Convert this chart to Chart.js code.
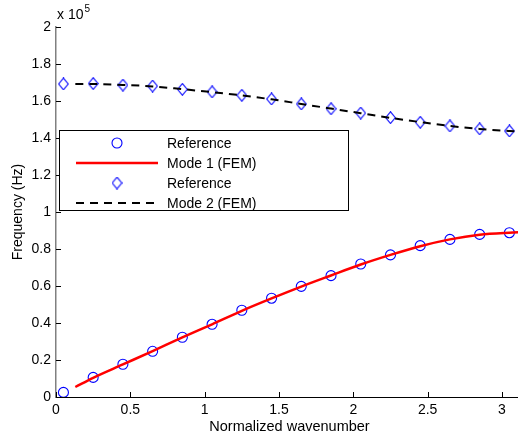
<!DOCTYPE html>
<html>
<head>
<meta charset="utf-8">
<script src="https://cdn.jsdelivr.net/npm/chart.js@4.4.1/dist/chart.umd.min.js"></script>
<style>
  html, body { margin: 0; padding: 0; background: #fff; overflow: hidden; }
  canvas { display: block; }
</style>
</head>
<body>
<canvas id="freqChart" width="530" height="437"></canvas>
<script>
// Datos (frecuencia en unidades de 1e5 Hz)
const refWavenumber = [0.05, 0.25, 0.45, 0.65, 0.85, 1.05, 1.25, 1.45, 1.65, 1.85, 2.05, 2.25, 2.45, 2.65, 2.85, 3.05];
const refMode1 = [0.025, 0.106, 0.177, 0.247, 0.323, 0.393, 0.469, 0.534, 0.598, 0.656, 0.719, 0.768, 0.818, 0.852, 0.879, 0.888];
const refMode2 = [1.692, 1.694, 1.686, 1.681, 1.663, 1.649, 1.631, 1.611, 1.584, 1.558, 1.535, 1.510, 1.485, 1.465, 1.449, 1.438];

const femWavenumber = [0.13, 0.25, 0.45, 0.65, 0.85, 1.05, 1.25, 1.45, 1.65, 1.85, 2.05, 2.25, 2.45, 2.65, 2.85, 3.05, 3.14];
const femMode1 = [0.054, 0.104, 0.176, 0.248, 0.322, 0.393, 0.466, 0.533, 0.597, 0.657, 0.716, 0.768, 0.815, 0.852, 0.877, 0.888, 0.891];
const femMode2 = [1.692, 1.692, 1.687, 1.679, 1.664, 1.648, 1.630, 1.609, 1.584, 1.559, 1.534, 1.509, 1.486, 1.465, 1.449, 1.438, 1.434];

const seriesLabels = ['Reference', 'Mode 1 (FEM)', 'Reference', 'Mode 2 (FEM)'];
const xTitle = 'Normalized wavenumber';
const yTitle = 'Frequency (Hz)';

const FONT = 'Liberation Sans, Arial, Helvetica, sans-serif';
const BLUE = '#0000ff';

function toPoints(xs, ys) {
    return xs.map((x, i) => ({ x: x, y: ys[i] }));
}

// Formato tipo MATLAB: sin ceros sobrantes
function fmtTick(v) {
    return String(Number(v.toFixed(2)));
}

// Marcador rombo (mas alto que ancho, como en MATLAB)
function makeDiamond() {
    const c = document.createElement('canvas');
    c.width = 11;
    c.height = 13;
    const g = c.getContext('2d');
    g.strokeStyle = BLUE;
    g.lineWidth = 1.1;
    g.beginPath();
    g.moveTo(5.5, 0.7);
    g.lineTo(10.3, 6.5);
    g.lineTo(5.5, 12.3);
    g.lineTo(0.7, 6.5);
    g.closePath();
    g.stroke();
    return c;
}
const diamondMarker = makeDiamond();

// Marcas de eje hacia dentro + multiplicador "x 10^5"
const matlabAxes = {
    id: 'matlabAxes',
    afterDatasetsDraw(chart) {
        const ctx = chart.ctx;
        const area = chart.chartArea;
        const xs = chart.scales.x;
        const ys = chart.scales.y;
        ctx.save();
        ctx.lineWidth = 1;
        ctx.strokeStyle = '#000';
        xs.ticks.forEach(t => {
            const px = Math.round(xs.getPixelForValue(t.value)) + 0.5;
            ctx.beginPath();
            ctx.moveTo(px, area.bottom);
            ctx.lineTo(px, area.bottom - 5);
            ctx.stroke();
        });
        ys.ticks.forEach(t => {
            const py = Math.round(ys.getPixelForValue(t.value)) + 0.5;
            ctx.beginPath();
            ctx.moveTo(area.left, py);
            ctx.lineTo(area.left + 5, py);
            ctx.stroke();
        });
        ctx.fillStyle = '#000';
        ctx.textBaseline = 'alphabetic';
        ctx.textAlign = 'left';
        ctx.font = '14px ' + FONT;
        ctx.fillText('x 10', area.left + 1, area.top - 8);
        const w = ctx.measureText('x 10').width;
        ctx.font = '10px ' + FONT;
        ctx.fillText('5', area.left + 2 + w, area.top - 15);
        ctx.restore();
    }
};

// Leyenda en caja, estilo MATLAB
const boxLegend = {
    id: 'boxLegend',
    afterDraw(chart) {
        const ctx = chart.ctx;
        const box = { left: 59.5, top: 130.5, right: 348.5, bottom: 210.5 };
        ctx.save();
        ctx.fillStyle = '#fff';
        ctx.fillRect(box.left, box.top, box.right - box.left, box.bottom - box.top);
        ctx.strokeStyle = '#000';
        ctx.lineWidth = 1;
        ctx.strokeRect(box.left, box.top, box.right - box.left, box.bottom - box.top);
        chart.data.datasets.forEach((ds, i) => {
            const y = 143 + i * 20;
            if (ds.showLine) {
                ctx.beginPath();
                ctx.strokeStyle = ds.borderColor;
                ctx.lineWidth = ds.borderWidth;
                ctx.setLineDash(ds.borderDash || []);
                ctx.moveTo(76, y);
                ctx.lineTo(158, y);
                ctx.stroke();
                ctx.setLineDash([]);
            } else if (ds.pointStyle === 'circle') {
                ctx.strokeStyle = ds.pointBorderColor;
                ctx.lineWidth = ds.pointBorderWidth;
                ctx.beginPath();
                ctx.arc(117, y, ds.pointRadius, 0, Math.PI * 2);
                ctx.stroke();
            } else {
                const img = ds.pointStyle;
                ctx.drawImage(img, 117 - img.width / 2, y - img.height / 2);
            }
            ctx.fillStyle = '#000';
            ctx.font = '14px ' + FONT;
            ctx.textAlign = 'left';
            ctx.textBaseline = 'middle';
            ctx.fillText(ds.label, 167, y + 1);
        });
        ctx.restore();
    }
};

const ctx = document.getElementById('freqChart').getContext('2d');
const freqChart = new Chart(ctx, {
    type: 'scatter',
    data: {
        datasets: [
            {
                label: seriesLabels[0],
                data: toPoints(refWavenumber, refMode1),
                showLine: false,
                pointStyle: 'circle',
                pointRadius: 5,
                pointBorderWidth: 1.1,
                pointBorderColor: BLUE,
                pointBackgroundColor: 'rgba(0,0,0,0)',
                order: 2
            },
            {
                label: seriesLabels[1],
                data: toPoints(femWavenumber, femMode1),
                showLine: true,
                borderColor: '#ff0000',
                borderWidth: 2.5,
                pointRadius: 0,
                cubicInterpolationMode: 'monotone',
                order: 1
            },
            {
                label: seriesLabels[2],
                data: toPoints(refWavenumber, refMode2),
                showLine: false,
                pointStyle: diamondMarker,
                pointRadius: 6,
                order: 2
            },
            {
                label: seriesLabels[3],
                data: toPoints(femWavenumber, femMode2),
                showLine: true,
                borderColor: '#000000',
                borderWidth: 2,
                borderDash: [8, 6],
                pointRadius: 0,
                cubicInterpolationMode: 'monotone',
                order: 1
            }
        ]
    },
    options: {
        responsive: false,
        animation: false,
        events: [],
        layout: { padding: { top: 27, right: 5, left: 0, bottom: 0 } },
        plugins: {
            legend: { display: false },
            tooltip: { enabled: false }
        },
        scales: {
            x: {
                type: 'linear',
                min: 0,
                max: Math.PI,
                afterFit: s => { s.height = 40; },
                border: { display: true, color: '#000', width: 1 },
                grid: { display: false, drawTicks: false },
                ticks: {
                    stepSize: 0.5,
                    includeBounds: false,
                    maxRotation: 0,
                    autoSkip: false,
                    padding: 5,
                    color: '#000',
                    font: { family: FONT, size: 14 },
                    callback: v => fmtTick(v)
                },
                title: {
                    display: true,
                    text: xTitle,
                    color: '#000',
                    font: { family: FONT, size: 14.5 },
                    padding: { top: 0, bottom: 1 }
                }
            },
            y: {
                type: 'linear',
                min: 0,
                max: 2,
                afterFit: s => { s.width = 56; },
                border: { display: true, color: '#808080', width: 1.5 },
                grid: { display: false, drawTicks: false },
                ticks: {
                    stepSize: 0.2,
                    autoSkip: false,
                    padding: 5,
                    color: '#000',
                    font: { family: FONT, size: 14 },
                    callback: v => fmtTick(v)
                },
                title: {
                    display: true,
                    text: yTitle,
                    color: '#000',
                    font: { family: FONT, size: 14 },
                    padding: { top: 10, bottom: 0 }
                }
            }
        }
    },
    plugins: [matlabAxes, boxLegend]
});
</script>
</body>
</html>
